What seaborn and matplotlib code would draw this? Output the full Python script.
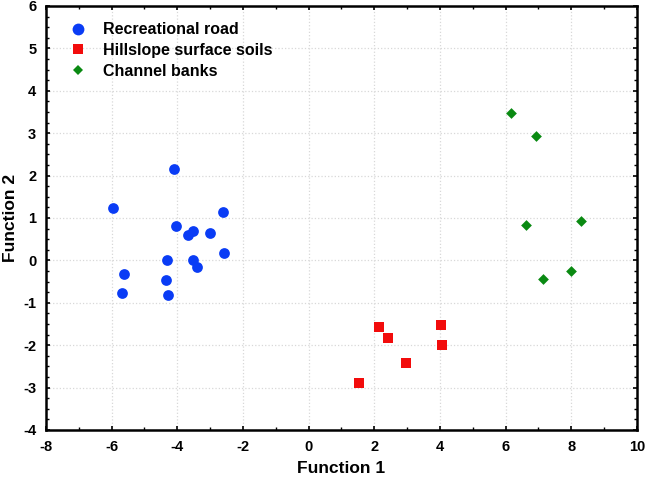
import matplotlib
matplotlib.use("Agg")
import matplotlib.pyplot as plt
import seaborn as sns
import pandas as pd
from matplotlib.ticker import MultipleLocator
from matplotlib.lines import Line2D

groups = ["Recreational road", "Hillslope surface soils", "Channel banks"]

road_x = [-4.11, -5.95, -2.62, -4.03, -3.68, -3.52, -3.01, -2.58, -4.31, -3.53, -3.39, -5.61, -4.34, -5.69, -4.28]
road_y = [2.15, 1.24, 1.14, 0.80, 0.61, 0.69, 0.64, 0.18, 0.01, 0.01, -0.16, -0.32, -0.46, -0.77, -0.81]
hill_x = [2.13, 2.42, 4.02, 4.05, 2.95, 1.53]
hill_y = [-1.56, -1.83, -1.52, -2.00, -2.42, -2.90]
chan_x = [6.17, 6.91, 6.63, 8.30, 7.99, 7.15]
chan_y = [3.48, 2.94, 0.84, 0.93, -0.24, -0.45]

df = pd.DataFrame({
    "Function 1": road_x + hill_x + chan_x,
    "Function 2": road_y + hill_y + chan_y,
    "Group": [groups[0]] * len(road_x) + [groups[1]] * len(hill_x) + [groups[2]] * len(chan_x),
})

colors = {groups[0]: "#0A3CF5", groups[1]: "#F20C0C", groups[2]: "#0A8A12"}
markers = {groups[0]: "o", groups[1]: "s", groups[2]: "D"}
sizes = {groups[0]: 60, groups[1]: 48, groups[2]: 30}

sns.set_style("white")
plt.rcParams["font.family"] = ["Liberation Sans", "DejaVu Sans"]
plt.rcParams["font.weight"] = "bold"
plt.rcParams["axes.unicode_minus"] = False
plt.rcParams["text.color"] = "black"
plt.rcParams["axes.labelcolor"] = "black"
plt.rcParams["xtick.color"] = "black"
plt.rcParams["ytick.color"] = "black"

fig = plt.figure(figsize=(6.47, 4.79), dpi=100)
ax = fig.add_axes([0.0711, 0.1023, 0.9134, 0.8852])

for g in groups:
    sub = df[df["Group"] == g]
    sns.scatterplot(data=sub, x="Function 1", y="Function 2", ax=ax, color=colors[g],
                    marker=markers[g], s=sizes[g], linewidth=0, legend=False, zorder=3)

ax.set_xlim(-8, 10)
ax.set_ylim(-4, 6)
ax.xaxis.set_major_locator(MultipleLocator(2))
ax.xaxis.set_minor_locator(MultipleLocator(1))
ax.yaxis.set_major_locator(MultipleLocator(1))
ax.yaxis.set_minor_locator(MultipleLocator(0.25))
ax.grid(True, which="major", color="#d8d8d8", linestyle=":", linewidth=0.9)
ax.tick_params(which="both", direction="in", top=True, right=True, bottom=True, left=True, color="black")
ax.tick_params(which="major", length=3, width=1.2, labelsize=10.5, pad=7)
ax.tick_params(which="minor", length=2, width=1)
for sp in ax.spines.values():
    sp.set_visible(True)
    sp.set_color("black")
    sp.set_linewidth(1.8)

ax.set_xlabel("Function 1", fontsize=12.5, fontweight="bold", labelpad=5, color="black")
ax.set_ylabel("Function 2", fontsize=12.5, fontweight="bold", color="black")
ax.yaxis.set_label_coords(-0.047, 0.5)

handles = [Line2D([0], [0], marker=markers[g], color="none", markerfacecolor=colors[g],
                  markeredgewidth=0, markersize=ms, label=g)
           for g, ms in zip(groups, [8.5, 7, 5.5])]
leg = ax.legend(handles=handles, loc="upper left", bbox_to_anchor=(0.012, 0.995), frameon=False,
                prop={"size": 11.5, "weight": "bold"}, handletextpad=0.9, labelspacing=0.35,
                handlelength=1.3)

fig.canvas.draw()
for lab in ax.get_xticklabels() + ax.get_yticklabels():
    lab.set_fontweight("bold")
    lab.set_color("black")

fig.savefig("out.png", dpi=100)
